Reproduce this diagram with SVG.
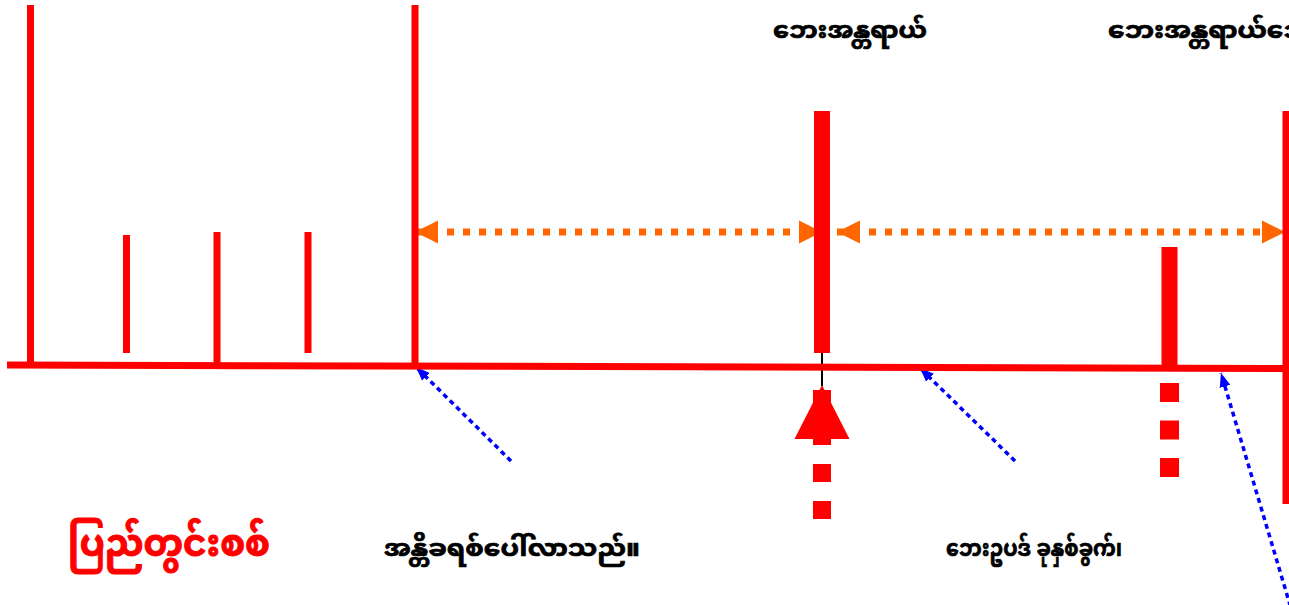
<svg xmlns="http://www.w3.org/2000/svg" width="1289" height="605" viewBox="0 0 1289 605">
<style>
.red{stroke:#ff0000;fill:none}
.org{stroke:#ff6600;stroke-width:7;stroke-dasharray:7 9;fill:none}
.blu{stroke:#0000ff;stroke-width:3.5;stroke-dasharray:5 4;fill:none}
.lbl{font-family:"Noto Sans Myanmar","Noto Sans","DejaVu Sans",sans-serif;font-weight:bold;font-size:23px;fill:#000;stroke:#000;stroke-width:0.7}
.ttl{font-family:"Noto Sans Myanmar","Noto Sans","DejaVu Sans",sans-serif;font-weight:bold;font-size:38px;fill:#ff0000;stroke:#ff0000;stroke-width:1}
</style>
<defs>
<marker id="oa" markerUnits="userSpaceOnUse" markerWidth="24" markerHeight="24" refX="23" refY="12" orient="auto-start-reverse" viewBox="0 0 24 24"><path d="M0,0.5 L23,12 L0,23.5 z" fill="#ff6600"/></marker>
<marker id="ba" markerUnits="userSpaceOnUse" markerWidth="15" markerHeight="12" refX="14" refY="6" orient="auto" viewBox="0 0 15 12"><path d="M0,0.5 L14,6 L0,11.5 z" fill="#0000ff"/></marker>
<marker id="ra" markerUnits="userSpaceOnUse" markerWidth="55" markerHeight="56" refX="54" refY="28" orient="auto" viewBox="0 0 55 56"><path d="M0,0.5 L54,28 L0,55.5 z" fill="#ff0000"/></marker>
</defs>
<g id="connectors">
<line class="org" x1="415" y1="232" x2="822" y2="232" marker-start="url(#oa)" marker-end="url(#oa)"/>
<line class="org" x1="837" y1="232" x2="1285" y2="232" marker-start="url(#oa)" marker-end="url(#oa)"/>
<line x1="822" y1="519" x2="822" y2="385" stroke="#ff0000" stroke-width="18" stroke-dasharray="18 19" marker-end="url(#ra)"/>
<line x1="822" y1="352" x2="822" y2="386" stroke="#000" stroke-width="2"/>
<line x1="1169.5" y1="383" x2="1169.5" y2="477" stroke="#ff0000" stroke-width="19" stroke-dasharray="19 18.5"/>
<line class="blu" x1="511" y1="461" x2="416" y2="367" marker-end="url(#ba)"/>
<line class="blu" x1="1015" y1="461" x2="920" y2="368" marker-end="url(#ba)"/>
<line class="blu" x1="1293" y1="615" x2="1221" y2="373" marker-end="url(#ba)"/>
</g>
<g id="timeline">
<line class="red" x1="7" y1="365" x2="1289" y2="368.5" stroke-width="7"/>
</g>
<g id="ticks">
<line class="red" x1="30.5" y1="5" x2="30.5" y2="365" stroke-width="7"/>
<line class="red" x1="126.5" y1="235" x2="126.5" y2="353" stroke-width="7"/>
<line class="red" x1="217" y1="232" x2="217" y2="365" stroke-width="7"/>
<line class="red" x1="308" y1="232" x2="308" y2="353" stroke-width="7"/>
<line class="red" x1="415" y1="5" x2="415" y2="366" stroke-width="7"/>
<line class="red" x1="1286" y1="111" x2="1286" y2="504" stroke-width="7"/>
</g>
<g id="bar-middle">
<rect x="814" y="111" width="16" height="242" fill="#ff0000"/>
</g>
<g id="bar-right">
<rect x="1161.5" y="247" width="16" height="120" fill="#ff0000"/>
</g>
<g id="label-top-1"><text class="lbl" x="773" y="38" textLength="154" lengthAdjust="spacingAndGlyphs">ဘေးအန္တရာယ်</text></g>
<g id="label-top-2"><text class="lbl" x="1108" y="38" textLength="215" lengthAdjust="spacingAndGlyphs">ဘေးအန္တရာယ်ဘေး</text></g>
<g id="label-civil-war"><text class="ttl" x="68" y="556" textLength="202" lengthAdjust="spacingAndGlyphs">ပြည်တွင်းစစ်</text></g>
<g id="label-antichrist"><text class="lbl" x="384" y="556" textLength="256" lengthAdjust="spacingAndGlyphs">အန္တိခရစ်ပေါ်လာသည်။</text></g>
<g id="label-seven"><text class="lbl" x="946" y="556" textLength="176" lengthAdjust="spacingAndGlyphs">ဘေးဥပဒ် ခုနှစ်ခွက်၊</text></g>
</svg>
